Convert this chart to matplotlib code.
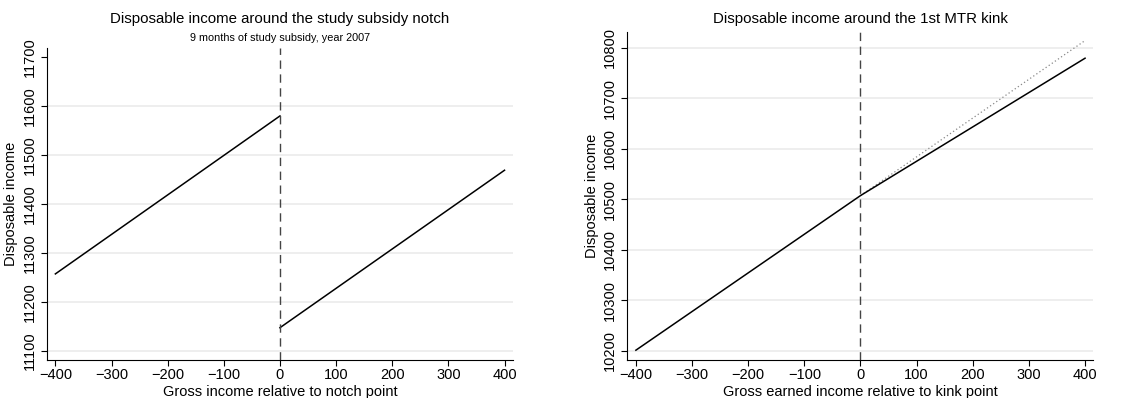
import matplotlib.pyplot as plt

plt.rcParams["font.family"] = ["Liberation Sans", "DejaVu Sans"]

# Left panel: notch
notch_x_below = [-400, 0]
notch_y_below = [11257, 11580]
notch_x_above = [0, 400]
notch_y_above = [11147, 11469]
notch_yticks = [11100, 11200, 11300, 11400, 11500, 11600, 11700]
notch_grid = [11100, 11200, 11300, 11400, 11500, 11600]

# Right panel: kink
kink_x = [-400, 0, 400]
kink_y = [10201, 10507, 10779]
kink_cf_x = [0, 400]
kink_cf_y = [10507, 10814]
kink_yticks = [10200, 10300, 10400, 10500, 10600, 10700, 10800]

xticks = [-400, -300, -200, -100, 0, 100, 200, 300, 400]

fig = plt.figure(figsize=(11.45, 3.98), dpi=100)
ax1 = fig.add_axes([0.041, 0.0955, 0.407, 0.784])
ax2 = fig.add_axes([0.548, 0.0955, 0.407, 0.825])


def style_axes(ax, yticks, grid):
    for s in ["top", "right"]:
        ax.spines[s].set_visible(False)
    ax.set_xticks(xticks)
    ax.set_xticklabels([str(t).replace("-", "\u2212") for t in xticks])
    ax.set_yticks(yticks)
    ax.tick_params(axis="y", labelrotation=90, labelsize=10.5, length=4)
    ax.tick_params(axis="x", labelsize=10.5, length=4, pad=2)
    for lab in ax.get_yticklabels():
        lab.set_va("center")
    for g in grid:
        ax.axhline(g, color="#ebebeb", linewidth=1.2, zorder=0)
    ax.axvline(0, color="#444444", linestyle=(0, (6, 4)), linewidth=1.0)


# Left
ax1.plot(notch_x_below, notch_y_below, color="black", linewidth=1.1)
ax1.plot(notch_x_above, notch_y_above, color="black", linewidth=1.1)
ax1.set_xlim(-415, 415)
ax1.set_ylim(11081, 11719)
style_axes(ax1, notch_yticks, notch_grid)
ax1.set_xlabel("Gross income relative to notch point", fontsize=10.5, labelpad=2)
ax1.set_ylabel("Disposable income", fontsize=10.5, labelpad=3)
fig.text(0.2445, 1 - 19 / 398, "Disposable income around the study subsidy notch",
         ha="center", va="center", fontsize=10.8)
fig.text(0.2445, 1 - 38 / 398, "9 months of study subsidy, year 2007",
         ha="center", va="center", fontsize=7.8)

# Right
ax2.plot(kink_cf_x, kink_cf_y, color="#888888", linestyle=(0, (1, 2)), linewidth=0.9)
ax2.plot(kink_x, kink_y, color="black", linewidth=1.1)
ax2.set_xlim(-415, 415)
ax2.set_ylim(10181.6, 10831.6)
style_axes(ax2, kink_yticks, kink_yticks)
ax2.set_xlabel("Gross earned income relative to kink point", fontsize=10.5, labelpad=2)
ax2.set_ylabel("Disposable income", fontsize=10.5, labelpad=3)
fig.text(0.7515, 1 - 19 / 398, "Disposable income around the 1st MTR kink",
         ha="center", va="center", fontsize=10.8)

fig.savefig("out.png", dpi=100)
